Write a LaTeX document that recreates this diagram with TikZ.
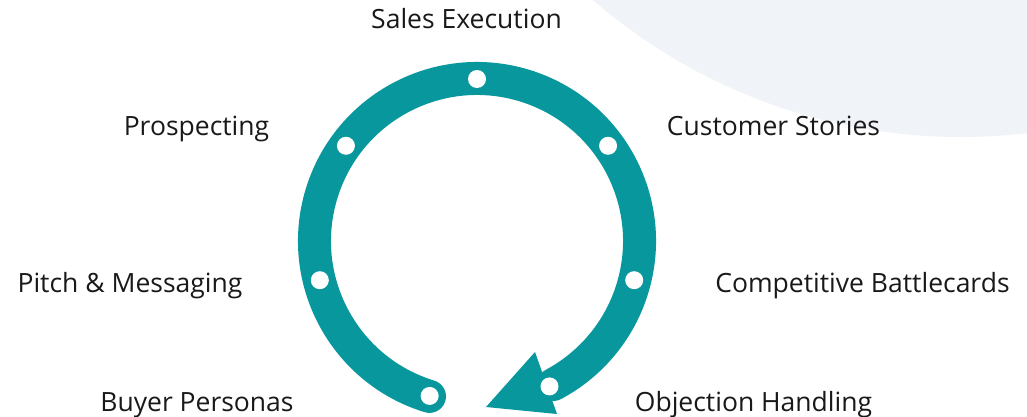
\documentclass[tikz,border=0pt]{standalone}
\usepackage{fontspec}
\setmainfont{Open Sans}
\usetikzlibrary{calc}
\definecolor{cycleteal}{HTML}{08979C}
\definecolor{bgshade}{HTML}{F0F3F7}
\begin{document}
\begin{tikzpicture}[x=1pt,y=1pt,
  itemtext/.style={font=\fontsize{26.5}{30}\selectfont, text=black!90, inner sep=0pt, anchor=base},
  hole/.style={circle, fill=white, minimum size=18pt, inner sep=0pt}]
\useasboundingbox (0,0) rectangle (1027,416);
% soft background disc in the top right corner
\begin{scope}
  \clip (0,0) rectangle (1027,416);
  \fill[bgshade] (961,842) circle[radius=563];
\end{scope}
% circular cycle arrow
\coordinate (c) at (477,175);
\draw[cycleteal, line width=33pt, line cap=round]
  ($(c)+(253:162.5)$) arc[start angle=253, end angle=-62, radius=162.5];
\fill[cycleteal] (486,9) -- (535,64) -- (557,2) -- cycle;
% stage markers on the ring
\node[hole] (h1) at ($(c)+(90:162)$) {};
\node[hole] (h2) at ($(c)+(144:162)$) {};
\node[hole] (h3) at ($(c)+(36:162)$) {};
\node[hole] (h4) at ($(c)+(194:162)$) {};
\node[hole] (h5) at ($(c)+(-14:162)$) {};
\node[hole] (h6) at ($(c)+(253:162)$) {};
\node[hole] (h7) at ($(c)+(-63.5:162.5)$) {};
% stage names
\node[itemtext] (sales) at (466.5,387) {Sales Execution};
\node[itemtext] (prosp) at (196.5,281) {Prospecting};
\node[itemtext] (cust)  at (773.5,281) {Customer Stories};
\node[itemtext] (pitch) at (130,124) {Pitch \& Messaging};
\node[itemtext] (comp)  at (862.5,124) {Competitive Battlecards};
\node[itemtext] (buyer) at (197,4.5) {Buyer Personas};
\node[itemtext] (obj)   at (753.5,4.5) {Objection Handling};
\end{tikzpicture}
\end{document}
